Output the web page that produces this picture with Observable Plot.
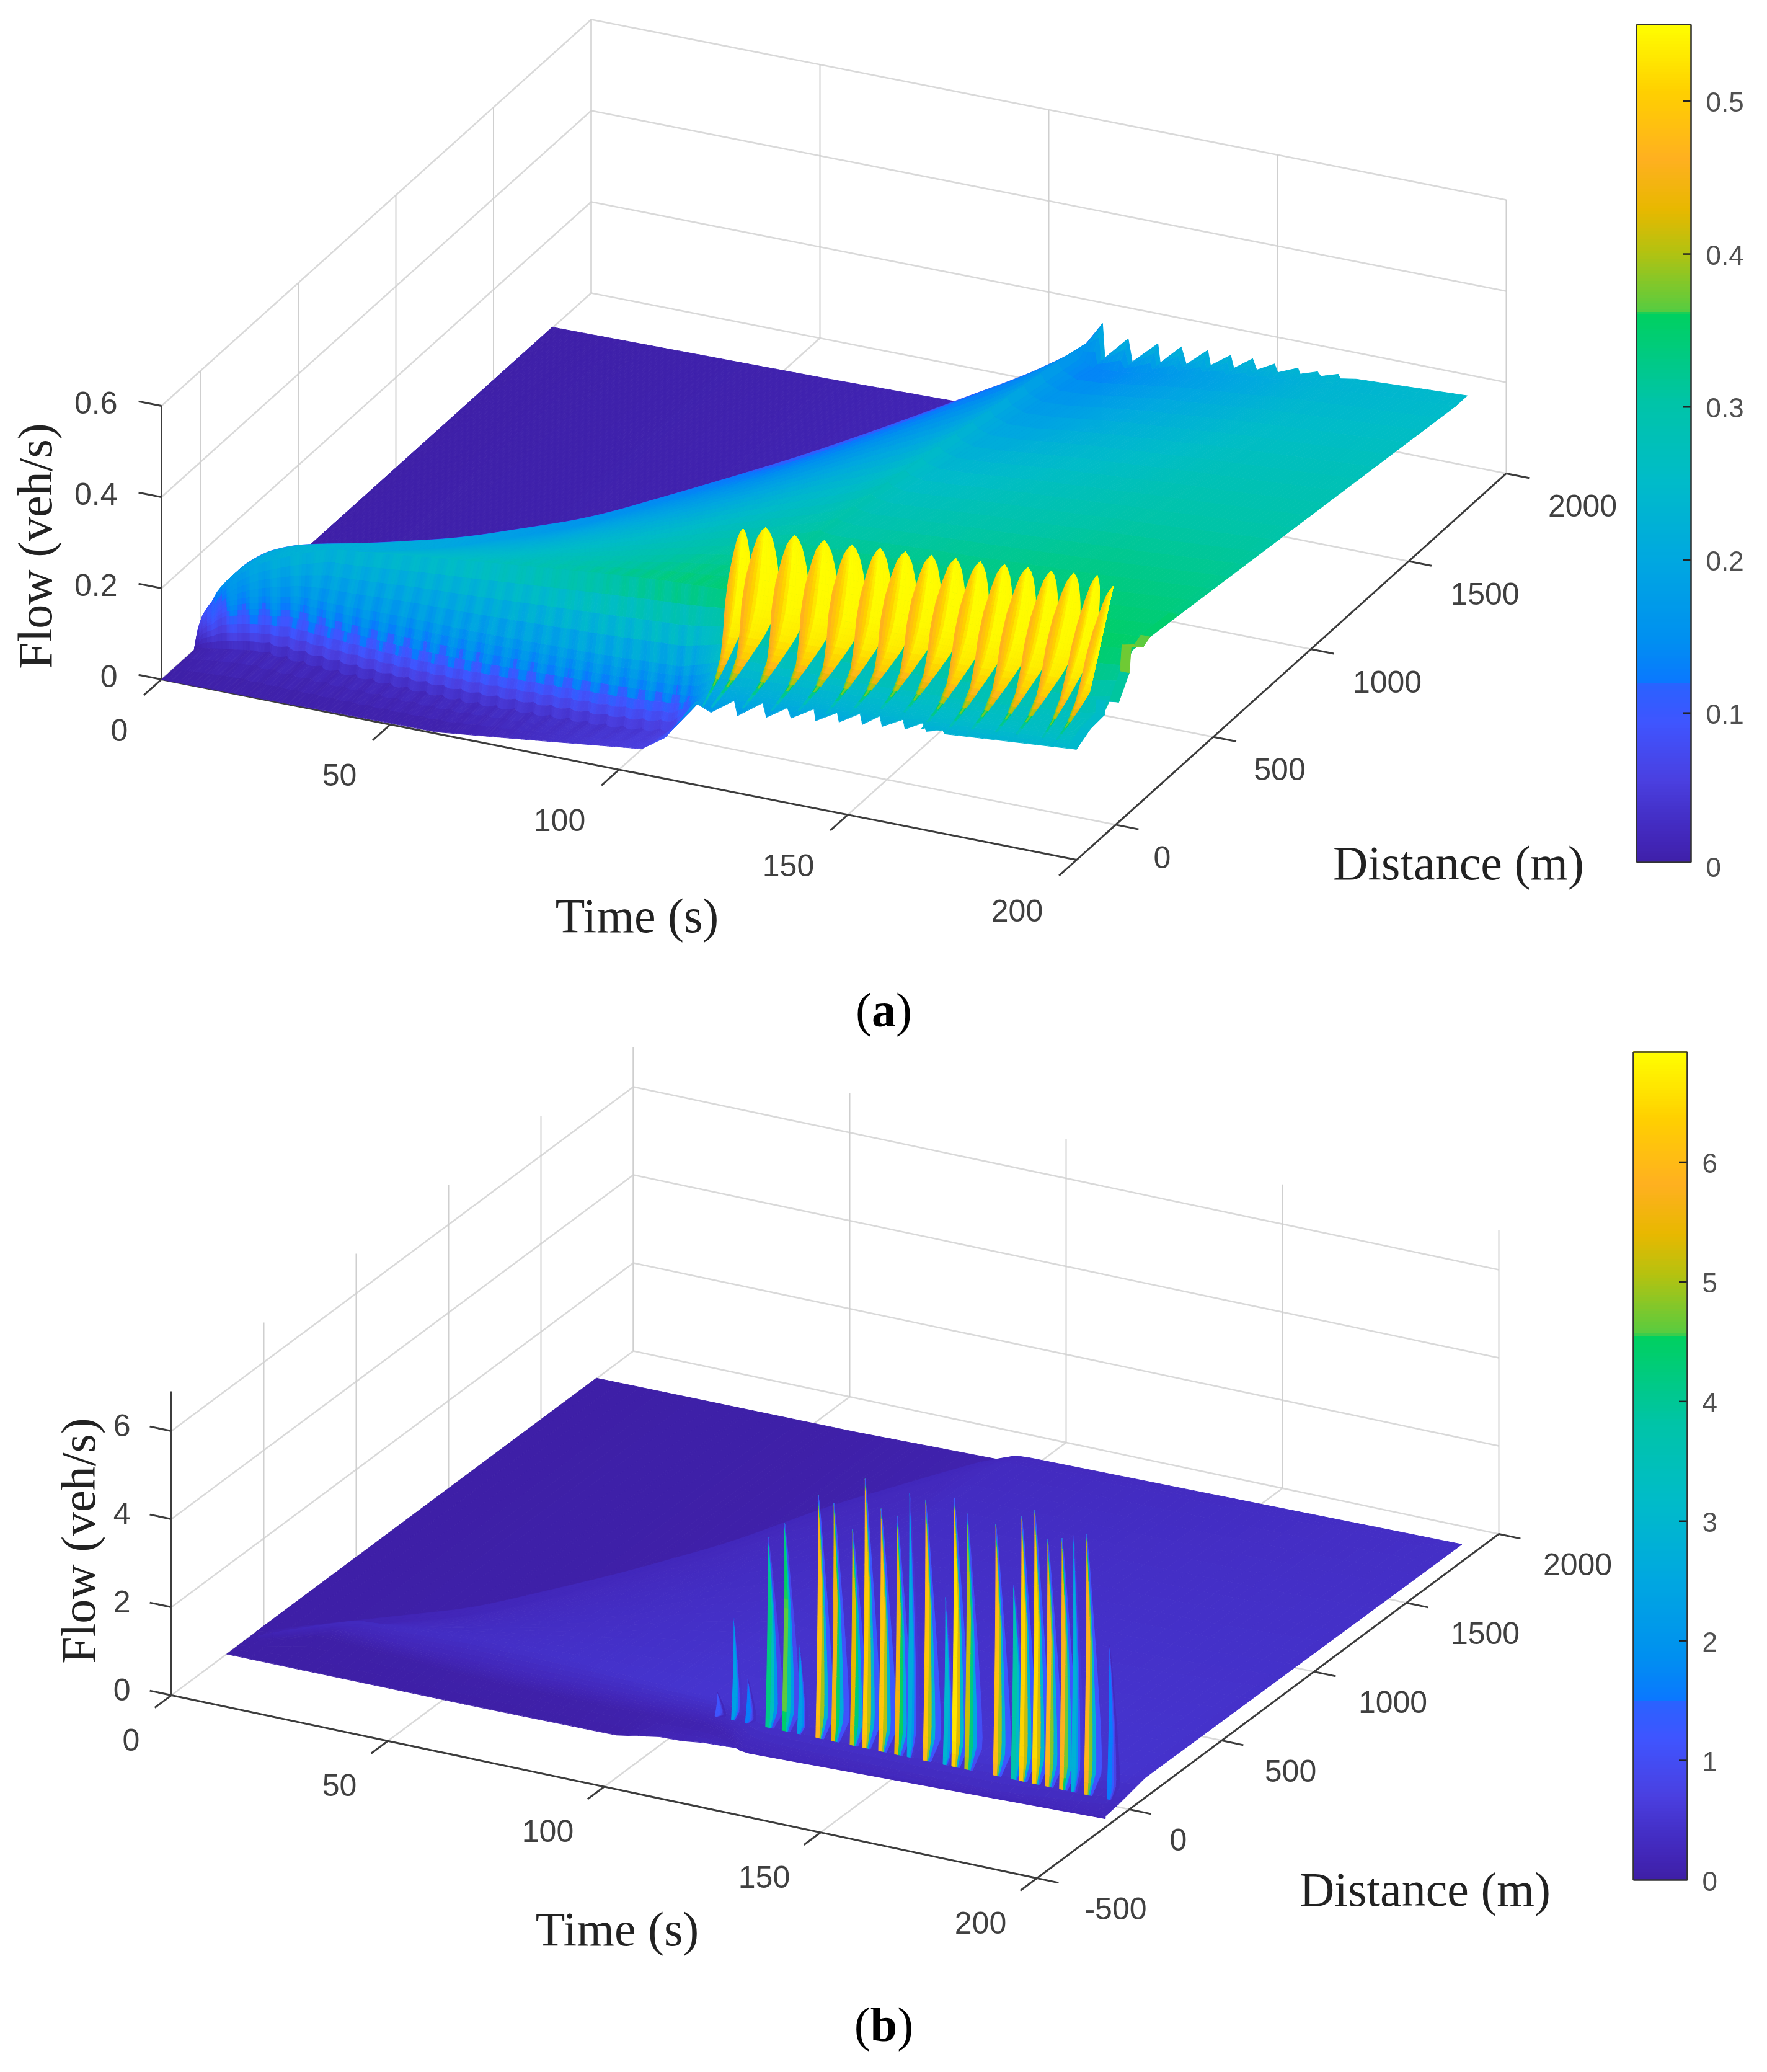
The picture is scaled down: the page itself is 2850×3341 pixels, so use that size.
<!DOCTYPE html>
<html><head><meta charset="utf-8">
<style>html,body{margin:0;padding:0;background:#fff}svg{display:block;filter:blur(0.7px)}</style>
<script src="https://cdn.jsdelivr.net/npm/d3@7"></script>
<script src="https://cdn.jsdelivr.net/npm/@observablehq/plot@0.6"></script>
</head><body><script>
// ---------- colour map (fraction of colour-bar maximum → colour)
const palFrac=[0,.03,.06,.10,.17,.215,.218,.27,.365,.46,.55,.655,.66,.73,.78,.84,.92,1];
const palColor=["#3e1fa6","#4226b8","#4430c8","#4a3fe0","#3f55ff","#2a62ff","#0a78ff","#0090f0","#00a8e0","#00bcc8","#00c4a8","#00d060","#58cc40","#b4c210","#e8b800","#ffb020","#ffd000","#ffff00"];
// ---------- axis ticks
const timeTicks=[0,50,100,150,200];
const distTicksA=[0,500,1000,1500,2000];
const distTicksB=[-500,0,500,1000,1500,2000];
const flowTicksA=[0,.2,.4,.6];
const flowTicksB=[0,2,4,6];
const barTicksA=[0,.1,.2,.3,.4,.5];
const barTicksB=[0,1,2,3,4,5,6];
// ---------- surface tables (time knots, distance of key rows)
const surfT=[0,3,10,20,30,45,60,75,90,100,106,112,118,125,150,175,197,200];
const footD=[20,22,10,-5,-20,-40,-55,-58,-60,-60,-65,-110,-185,-190,-190,-190,-185,-180];
const kneeD=[24,24,30,25,10,5,-10,-15,-20,-20,-25,-60,-120,-130,-130,-130,-80,-57];
const topD=[26,26,42,70,70,80,70,50,25,10,5,0,0,0,0,10,70,85];
// ---------- panel (a) flows
const footFA=[0,.015,.012,.012,.012,.015,.018,.022,.028,.035,.05,.12,.19,.21,.23,.25,.26,.26];
const lipFA=[0,.08,.09,.09,.09,.09,.095,.1,.105,.11,.115,.14,.2,.22,.235,.255,.265,.265];
const kneeFA=[0,.1,.13,.135,.14,.145,.15,.155,.16,.165,.17,.2,.24,.26,.26,.27,.27,.27];
const topFA=[0,.11,.19,.23,.235,.25,.27,.295,.32,.335,.34,.345,.35,.355,.36,.365,.355,.35];
const headTA=[0,1.2,3.7,8.9,15.4,20.6,30,44,61.2,75,84.4,95,105,109.6,113.9,117,120.3,120.8,125.9,126.8,132.4,132.9,137.5,138.6,143.3,143.9,148.3,149,153.1,154,157.9,158.6,163,163.5,167.3,168,171.8,172.3,175.7,200];
const headDA=[28,26,18,41,67,79,170,312,566,900,1124,1370,1582,1645,1737,1796,1800,1800,1800,1800,1800,1800,1800,1800,1800,1800,1800,1800,1800,1800,1800,1800,1800,1800,1800,1800,1800,1800,1800,1800];
const headFA=[0,.07,.13,.19,.22,.23,.215,.2,.18,.16,.15,.15,.16,.17,.18,.2,.248,.174,.226,.177,.228,.187,.231,.195,.235,.203,.234,.207,.236,.213,.234,.2165,.235,.2227,.2355,.2268,.239,.23,.236,.2476];
const frontTA=[0,60,83,105,110,113,116.6,120.1,125.2,125.9,131.4,132.2,136.8,137.6,142.6,143,147.7,148.1,152.7,153.2,157,157.5,162.1,162.5,166.3,167.2,170.6,171.4,200];
const frontFA=[0,.004,.03,.056,.09,.13,.18,.166,.202,.17,.209,.179,.209,.188,.218,.193,.22,.2,.228,.205,.231,.209,.2335,.213,.234,.2175,.227,.22,.243];
const innerTA=[0,118,120.8,126.8,132.9,138.6,143.9,149,154,158.6,163.5,168,172.3,200];
const innerFA=[.2,.19,.174,.177,.187,.195,.203,.207,.213,.2165,.2227,.2268,.23,.2476];
const toneDropT=[40,80,125,170];
const toneDropA=[0,.04,.045,0];
const rippleT=[3,7,11,15,19,23,27,31,35,39,43,47,51,55,59,63,67,71,75,79,83,87,91,95,99,103,107,111];
const spikeTA=[123.9,127.7,134.5,140.8,146.7,152.4,157.6,163,168,173,177.9,182.7,187.6,192.1,196.7,200];
const spikeDA=[-125,-98,-108,-105,-100,-90,-84,-76,-69,-61,-51,-43,-38,-28,-18,-13];
const spikeFA=[.547,.547,.547,.547,.547,.547,.547,.547,.547,.547,.547,.547,.547,.547,.547,.528];
const finRow=[0,.02,.06,.142,.285,.429,.571,.714,.857,1];
const finLeft=[0,-.7,-1.4,-2,-2.6,-2.6,-2.1,-1.9,-3,-5.8];
const finRight=[0,.9,1.9,3.2,4.8,5,3.2,.6,-2.2,-5.4];
const toneLeft=[.54,.53,.51,.48,.46,.455,.45,.42,.34,.22];
const toneMid=[.55,.55,.55,.55,.547,.545,.535,.5,.38,.22];
const toneRight=[.545,.545,.545,.545,.545,.54,.53,.5,.36,.21];
const endD=[-200,-130,-57,-50,16,70,79,143,178,320];
const endF=[.243,.26,.263,.29,.263,.307,.36,.336,.345,.337];
const endTone=[.24,.25,.25,.26,.26,.36,.385,.37,.36,.34];
// ---------- panel (b) flows
const footFB=[0,.01,.01,.01,.02,.03,.04,.05,.08,.1,.12,.15,.2,.2,.2,.2,.2,.2];
const lipFB=[0,.08,.1,.12,.14,.15,.16,.17,.2,.22,.22,.22,.25,.25,.25,.25,.25,.25];
const kneeFB=[0,.1,.15,.18,.2,.22,.25,.27,.3,.3,.3,.3,.3,.3,.3,.3,.3,.3];
const topFB=[0,.15,.25,.32,.34,.38,.42,.45,.48,.5,.5,.5,.5,.5,.5,.5,.48,.45];
const headTB=[0,5.3,35.8,54,68,74,91.4,97,100,200];
const headDB=[-50,-10,301,661,1011,1258,1715,1800,1800,1800];
const headFB=[0,.1,.22,.25,.25,.25,.25,.26,.28,.39];
const frontTB=[0,60,90,100,105,110,150,200];
const frontFB=[0,.005,.03,.2,.2,.25,.32,.2];
const frontDT=[0,100,200];
const frontDB=[-200,-200,-130];
const innerTB=[0,97,200];
const innerFB=[.28,.3,.39];
const spikeTB=[107.2,111,114.2,118.9,122.7,126.2,130.5,134.1,138.4,141.3,145,148.7,151.6,155.3,159.9,161.9,164.9,171.5,175.6,177.5,180.5,183.5,186.8,189.5,192.5,197.8];
const spikeFB=[.54,2.3,1,4.3,4.7,2,5.5,5.4,4.9,6.1,5.5,5.4,6,5.9,3.8,6.1,5.8,5.7,4.4,6,6.2,5.6,5.7,5.8,5.9,3.5];
const spikeToneB=[1.2,2.3,1.6,4.2,4.6,2.3,6.1,5.6,5.4,6.3,6.2,5.6,2.6,6.2,3,6.6,5.2,6.1,3.8,6.4,6.5,5.9,5.8,2.8,5.9,1.6];
const bladeRow=[0,.1,.25,.5,.75,.9,1];
const bladeWide=[0,.6,1.3,2.5,3.6,4,1.8];
const bladeFade=[.88,.92,.98,1,1,1,.95];

// ---------- projections of the two 3-D boxes
const boxA={o:[260,1095],tv:[7.38,1.455],dv:[.315,-.2832],dMin:-200,dMax:2000,zp:735,barMin:.0024,max:.55,zTop:.6,
  yDom:[0,1684],barX:[2639,2727],barY:[39,1390]};
const boxB={o:[276,2733],tv:[6.98,1.475],dv:[.298,-.222],dMin:-500,dMax:2000,zp:71,barMin:0,max:6.92,zTop:6.9,
  yDom:[1684,3341],barX:[2634,2721],barY:[1696,3031]};
const proj=(b,t,d,f=0)=>[b.o[0]+b.tv[0]*t+b.dv[0]*(d-b.dMin),b.o[1]+b.tv[1]*t+b.dv[1]*(d-b.dMin)-f*b.zp];
const lk=(xs,ys)=>d3.scaleLinear().domain(xs).range(ys).clamp(true);
const mix=(a,b,u)=>a+(b-a)*u;
const wnd=[-4,-3,-2,-1,0,1,2,3,4];
const smooth=(g,until)=>t=>t>until?g(t):d3.mean(wnd,w=>g(t+w*Math.min(1,t/4,(until-t)/4)));

let qid=0;
function quad(b,quads,pts,v){
  qid++;
  for(const[t,d,f] of pts){const[x,y]=proj(b,t,d,f);quads.push({x,y,id:qid,v});}
}
function surface(b,c,quads){
  const fine=c.ripple?d3.range(0,112,.75):[];
  const times=Array.from(new Set([...d3.range(0,200.001,c.step),...fine,...c.breaks])).filter(t=>t>=0&&t<=200).sort(d3.ascending);
  const un=c.cliff-4;
  const hD=smooth(lk(c.headT,c.headD),un),hF=smooth(lk(c.headT,c.headF),un),fF=lk(c.frontT,c.frontF),fD=lk(c.frontDT,c.frontD),iF=lk(c.innerT,c.innerF);
  const k={fD:smooth(lk(surfT,footD),105),fF:smooth(lk(surfT,c.footF),105),lF:smooth(lk(surfT,c.lipF),105),kD:smooth(lk(surfT,kneeD),105),kF:smooth(lk(surfT,c.kneeF),105),tD:smooth(lk(surfT,topD),105),tF:smooth(lk(surfT,c.topF),105)};
  const farF=lk([0,60,c.cliff],c.far);
  const drop=c.drop?lk(toneDropT,toneDropA):()=>0;
  const wallAdd=c.ripple?lk([3,10,100,112],[0,1,1,0]):()=>0;
  const column=t=>{
    const head=hD(t),edgeF=hF(t),front=fD(t),inner=Math.max(head-60,front);
    let r=0,w=0;
    if(c.ripple&&t<112){const i=d3.bisectRight(rippleT,t);if(i>0&&i<rippleT.length){const p=(t-rippleT[i-1])/(rippleT[i]-rippleT[i-1]);r=Math.sin(Math.PI*p);w=Math.sin(2*Math.PI*p);}}
    const top=Math.min(k.tD(t),inner);
    const knee=Math.min(k.kD(t),top);
    const lip=Math.min(Math.max(k.fD(t)+22,front),knee);
    const foot=Math.max(front,Math.min(k.fD(t)-14*r,lip));
    const innerF=t>=c.cliff-3?iF(t):mix(k.tF(t),edgeF,.95);
    const dp=drop(t),wa=wallAdd(t);
    // keys: distance, flow, tone offset, subdivisions
    const keys=[[front,fF(t),0,3],[foot,k.fF(t),.012*r*wa,4],[lip,k.lF(t),.03*wa,3],[knee,k.kF(t),.022*wa,4],[top,k.tF(t),0,20],[inner,innerF,0,3],[head,edgeF,0,1]];
    const out=[];
    for(let a=0;a<keys.length-1;a++){const[d0,f0,o0,n]=keys[a],[d1,f1,o1]=keys[a+1];
      for(let i=0;i<n;i++){const u=i/n,f=mix(f0,f1,u);
        let tone=f+mix(o0,o1,u);
        if(c.ripple&&a===1)tone+=.022*w*u;
        if(c.ripple&&a===2)tone+=.022*w;
        if(c.ripple&&a===3)tone+=.022*w*(1-u*.6);
        if(c.ripple&&a===4)tone+=.008*w*Math.max(0,1-u*5);
        if(a===4)tone-=dp*u*u; else if(a===5)tone-=dp*(t<c.cliff?1:1-u);
        out.push([mix(d0,d1,u),f,tone]);}}
    out.push([head,edgeF,t<c.cliff?edgeF-dp:edgeF]);
    const fr=t>=c.cliff?edgeF:farF(t);
    out.push([Math.min(head+8,1800),fr,fr]);
    out.push([1800,fr,fr]);
    return out;
  };
  const cols=times.map(column),rows=cols[0].length;
  for(let j=rows-2;j>=0;j--)for(let i=0;i<cols.length-1;i++){
    const a=cols[i][j],e=cols[i][j+1],f=cols[i+1][j+1],g=cols[i+1][j];
    if(Math.abs(a[0]-e[0])+Math.abs(g[0]-f[0])<.01&&Math.abs(a[1]-e[1])+Math.abs(g[1]-f[1])<.0001)continue;
    const v=(a[2]+e[2]+f[2]+g[2])/4;
    quad(b,quads,[[times[i],a[0],a[1]],[times[i],e[0],e[1]],[times[i+1],f[0],f[1]],[times[i+1],g[0],g[1]]],v);
  }
}
function finsA(b,quads){
  const fF=lk(frontTA,frontFA);
  const L=lk(finRow,finLeft),R=lk(finRow,finRight);
  const tL=lk(finRow,toneLeft),tM=lk(finRow,toneMid),tR=lk(finRow,toneRight);
  const rowS=[0,.005,.01,.02,.03,.045,.06,...d3.range(.08,1.0001,.04)];
  spikeTA.forEach((tp,i)=>{
    const pitch=i<spikeTA.length-1?spikeTA[i+1]-tp:3.5, w=Math.min(1,pitch/5.6), tailF=fF(tp-6);
    const pt=(s,u)=>{
      const l=L(s)*w,r=R(s)*w,tt=tp-1.8*s+mix(l,r,u);
      return [Math.min(tt,200),mix(spikeDA[i],-200,s),mix(spikeFA[i],tailF,s)];
    };
    const tone=(s,u)=>u<.45?mix(tL(s),tM(s),u/.45):mix(tM(s),tR(s),(u-.45)/.55);
    const NU=10;
    for(let a=0;a<rowS.length-1;a++)for(let c=0;c<NU;c++){
      const s0=rowS[a],s1=rowS[a+1],u0=c/NU,u1=(c+1)/NU;
      quad(b,quads,[pt(s0,u0),pt(s1,u0),pt(s1,u1),pt(s0,u1)],tone((s0+s1)/2,(u0+u1)/2));
    }
  });
}
function endPatch(b,quads){
  for(let i=0;i<endD.length-1;i++)
    quad(b,quads,[[198,endD[i],endF[i]],[198,endD[i+1],endF[i+1]],[200,endD[i+1],endF[i+1]],[200,endD[i],endF[i]]],(endTone[i]+endTone[i+1])/2);
}
function bladesB(b,quads){
  const W=lk(bladeRow,bladeWide),Fd=lk(bladeRow,bladeFade);
  d3.range(spikeTB.length).forEach(i=>{
    const t0=spikeTB[i],F=spikeFB[i],tn=spikeToneB[i],k=F<2.5?.6:(tn<3.2?.7:1);
    const base=.35;
    const levels=[1,1,.62,.32,.08];
    const NS=22;
    for(let a=0;a<NS;a++)for(let c=0;c<levels.length-1;c++){
      const s0=a/NS,s1=(a+1)/NS;
      const cut=(s,n)=>{const w=W(s)*k,core=Math.min(1,w*.5);return n===0?0:n===1?core:n===2?core+(w-core)*.3:n===3?core+(w-core)*.6:w;};
      const pt=(s,n)=>[t0+cut(s,n)-.6*s*s,-55,base+F*(1-s)];
      const v=mix(levels[c],levels[c+1],.5)*tn*Fd((s0+s1)/2);
      quad(b,quads,[pt(s0,c),pt(s1,c),pt(s1,c+1),pt(s0,c+1)],v);
    }
  });
}
function frame(b,flowTicks,distTicks){
  const gridA=[],gridB=[],axes=[],ticks=[];
  const seg=(arr,p,q)=>{arr.push({x1:p[0],y1:p[1],x2:q[0],y2:q[1]});};
  const D0=b.dMin,D1=b.dMax;
  for(const t of timeTicks)seg(gridA,proj(b,t,D0),proj(b,t,D1));
  for(const d of distTicks)seg(gridA,proj(b,0,d),proj(b,200,d));
  for(const f of flowTicks){if(f===0)continue;seg(gridA,proj(b,0,D1,f),proj(b,200,D1,f));seg(gridA,proj(b,0,D0,f),proj(b,0,D1,f));}
  for(const t of timeTicks)seg(gridB,proj(b,t,D1),proj(b,t,D1,b.zTop));
  for(const d of distTicks)if(d>D0)seg(gridB,proj(b,0,d),proj(b,0,d,b.zTop));
  seg(axes,proj(b,0,D0),proj(b,0,D0,b.zTop));
  seg(axes,proj(b,0,D0),proj(b,200,D0));
  seg(axes,proj(b,200,D0),proj(b,200,D1));
  for(const f of flowTicks)seg(ticks,proj(b,0,D0,f),proj(b,-5,D0,f));
  for(const t of timeTicks)seg(ticks,proj(b,t,D0),proj(b,t,D0-90));
  for(const d of distTicks)seg(ticks,proj(b,200,d),proj(b,205,d));
  return {gridA,gridB,axes,ticks};
}
function bar(b,ticksB){
  const[yTop,yBot]=b.barY;const vy=v=>yBot-((v-b.barMin)/(b.max-b.barMin))*(yBot-yTop);
  const n=300,slices=d3.range(0,n).map(i=>{const v0=mix(b.barMin,b.max,i/n),v1=mix(b.barMin,b.max,(i+1)/n);
    return {y1:vy(v0),y2:vy(v1)-1,v:(v0+v1)/2,x1:b.barX[0],x2:b.barX[1]};});
  const tk=ticksB.filter(v=>v>0).map(v=>({x1:b.barX[1]-13,x2:b.barX[1],y:vy(v)}));
  return {slices,tk,vy};
}
function drawPanel(b,cfg){
  const quads=[];
  surface(b,cfg,quads);
  if(cfg.extra)cfg.extra(b,quads);
  const fr=frame(b,cfg.flowTicks,cfg.distTicks);
  const br=bar(b,cfg.barTicks);
  const lab=[];
  const sans="Liberation Sans, Arial, sans-serif",serif="Liberation Serif, Times New Roman, serif";
  for(const t of timeTicks){const[x,y]=proj(b,t,b.dMin),s=String(t);lab.push({x:x+cfg.tOff[0]-cfg.tOff[2]*(s.length-1),y:y+cfg.tOff[1],s});}
  for(const d of cfg.distTicks){const[x,y]=proj(b,200,d),s=String(d);lab.push({x:x+cfg.dOff[0]+cfg.dOff[2]*(s.length-1),y:y+cfg.dOff[1],s});}
  const zl=cfg.flowTicks.map(f=>{const[x,y]=proj(b,0,b.dMin,f);return{x:x+cfg.zOff[0],y:y+cfg.zOff[1],s:String(f)};});
  const bl=cfg.barTicks.map(v=>({x:b.barX[1]+24,y:br.vy(v)+3,s:String(v)}));
  const svg=Plot.plot({width:2850,height:b.yDom[1]-b.yDom[0],margin:0,
    x:{axis:null,domain:[0,2850],range:[0,2850]},
    y:{axis:null,domain:b.yDom,range:[0,b.yDom[1]-b.yDom[0]]},
    color:{type:"linear",domain:palFrac.map(f=>f*b.max),range:palColor,interpolate:"rgb",clamp:true},
    marks:[
      Plot.link(fr.gridA,{x1:"x1",y1:"y1",x2:"x2",y2:"y2",stroke:"#d9d9d9",strokeWidth:2.6}),
      Plot.link(fr.gridB,{x1:"x1",y1:"y1",x2:"x2",y2:"y2",stroke:"#cfcfcf",strokeWidth:2}),
      Plot.link(fr.axes,{x1:"x1",y1:"y1",x2:"x2",y2:"y2",stroke:"#3c3c3c",strokeWidth:3}),
      Plot.link(fr.ticks,{x1:"x1",y1:"y1",x2:"x2",y2:"y2",stroke:"#3c3c3c",strokeWidth:3}),
      Plot.line(quads,{x:"x",y:"y",z:"id",fill:"v",stroke:"v",strokeWidth:1,curve:"linear-closed"}),
      Plot.rect(br.slices,{x1:"x1",x2:"x2",y1:"y1",y2:"y2",fill:"v",shapeRendering:"crispEdges"}),
      Plot.ruleY(br.tk,{x1:"x1",x2:"x2",y:"y",stroke:"#222",strokeWidth:2.5}),
      Plot.link([{a:b.barX[0],c:b.barY[0],e:b.barX[1],g:b.barY[0]},{a:b.barX[0],c:b.barY[1],e:b.barX[1],g:b.barY[1]},{a:b.barX[0],c:b.barY[0],e:b.barX[0],g:b.barY[1]},{a:b.barX[1],c:b.barY[0],e:b.barX[1],g:b.barY[1]}],{x1:"a",y1:"c",x2:"e",y2:"g",stroke:"#333",strokeWidth:2.6}),
      Plot.text(lab,{x:"x",y:"y",text:"s",fontSize:50,fontFamily:sans,fill:"#404040"}),
      Plot.text(zl,{x:"x",y:"y",text:"s",fontSize:50,fontFamily:sans,fill:"#404040",textAnchor:"end"}),
      Plot.text(bl,{x:"x",y:"y",text:"s",fontSize:44,fontFamily:sans,fill:"#505050",textAnchor:"start"}),
      Plot.text([cfg.timeLab],{x:"x",y:"y",text:()=>"Time (s)",fontSize:78,fontFamily:serif,fill:"#222"}),
      Plot.text([cfg.distLab],{x:"x",y:"y",text:()=>"Distance (m)",fontSize:78,fontFamily:serif,fill:"#222"}),
      Plot.text([cfg.flowLab],{x:"x",y:"y",text:()=>"Flow (veh/s)",fontSize:78,fontFamily:serif,fill:"#222",rotate:-90}),
      Plot.text([cfg.capLab],{x:"x",y:"y",text:()=>cfg.cap,fontSize:78,fontFamily:serif,fill:"#000"})
    ]});
  d3.select(svg).selectAll("text").each(function(){
    if(this.textContent===cfg.cap){const l=cfg.cap[1];this.innerHTML='(<tspan font-weight="bold">'+l+'</tspan>)';}
  });
  document.body.appendChild(svg);
}
drawPanel(boxA,{step:1,ripple:true,cliff:120.3,drop:true,breaks:[...headTA,...frontTA,...rippleT],
  headT:headTA,headD:headDA,headF:headFA,frontT:frontTA,frontF:frontFA,frontDT,frontD:[-200,-200,-200],innerT:innerTA,innerF:innerFA,
  footF:footFA,lipF:lipFA,kneeF:kneeFA,topF:topFA,far:[.002,.008,.02],
  extra:(b,q)=>{endPatch(b,q);finsA(b,q);},
  flowTicks:flowTicksA,distTicks:distTicksA,barTicks:barTicksA,
  tOff:[-68,83,14],dOff:[75,54,16],zOff:[-71,-4],
  timeLab:{x:1027,y:1478},distLab:{x:2352,y:1393},flowLab:{x:58,y:880},capLab:{x:1425,y:1630},cap:"(a)"});
drawPanel(boxB,{step:2.5,ripple:false,cliff:97,drop:false,breaks:[...headTB,...frontTB],
  headT:headTB,headD:headDB,headF:headFB,frontT:frontTB,frontF:frontFB,frontDT,frontD:frontDB,innerT:innerTB,innerF:innerFB,
  footF:footFB,lipF:lipFB,kneeF:kneeFB,topF:topFB,far:[.01,.03,.1],
  extra:(b,q)=>bladesB(b,q),
  flowTicks:flowTicksB,distTicks:distTicksB,barTicks:barTicksB,
  tOff:[-65,73,13],dOff:[79,50,16],zOff:[-66,-8],
  timeLab:{x:995,y:3112},distLab:{x:2298,y:3048},flowLab:{x:128,y:2484},capLab:{x:1425,y:3266},cap:"(b)"});
</script></body></html>
